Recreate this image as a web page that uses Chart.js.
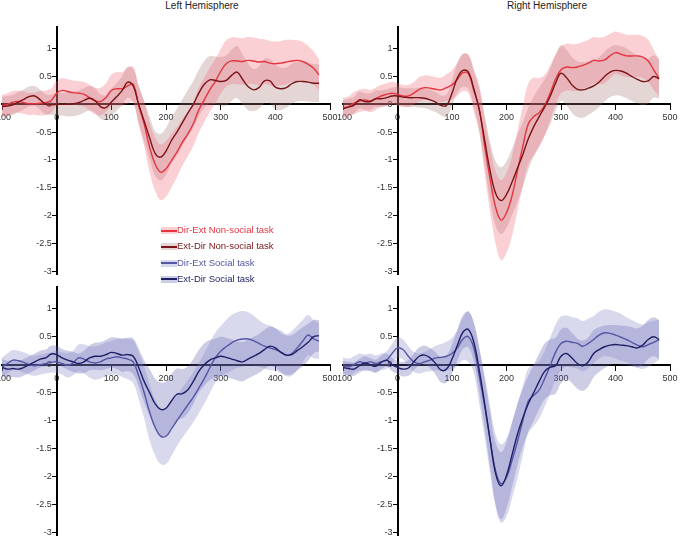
<!DOCTYPE html>
<html>
<head>
<meta charset="utf-8">
<script src="https://cdn.jsdelivr.net/npm/chart.js@4.4.0/dist/chart.umd.min.js"></script>
<style>
  body { margin: 0; width: 680px; height: 538px; overflow: hidden; background: #fff; position: relative;
         font-family: "Liberation Sans", Arial, sans-serif; }
  .panel { position: absolute; overflow: hidden; }
  .panel canvas { position: absolute; }
  .title { position: absolute; top: 0; width: 200px; text-align: center; font-size: 10px; line-height: 12px; color: #222; }
  .legend { position: absolute; left: 161px; top: 222px; font-size: 9.5px; line-height: 16.3px; }
  .legend div { white-space: nowrap; }
  .sw { display: inline-block; width: 16px; height: 7px; position: relative; vertical-align: -1px; }
  .sw i { position: absolute; left: 0; right: 0; top: 2.5px; height: 2px; }
</style>
</head>
<body>

<div class="title" style="left:102px">Left Hemisphere</div>
<div class="title" style="left:447px">Right Hemisphere</div>

<div class="panel" style="left:0;top:0;width:338px;height:280px">
  <canvas id="tl" width="388" height="307" style="left:-28px;top:-3px"></canvas>
</div>
<div class="panel" style="left:338px;top:0;width:342px;height:280px">
  <canvas id="tr" width="387" height="307" style="left:-25px;top:-3px"></canvas>
</div>
<div class="panel" style="left:0;top:280px;width:338px;height:258px">
  <canvas id="bl" width="388" height="308" style="left:-28px;top:-23px"></canvas>
</div>
<div class="panel" style="left:338px;top:280px;width:342px;height:258px">
  <canvas id="br" width="387" height="308" style="left:-25px;top:-23px"></canvas>
</div>

<div class="legend">
  <div style="color:#e4353f"><span class="sw" style="background:rgba(240,100,115,0.3)"><i style="background:#e4353f"></i></span>Dir-Ext Non-social task</div>
  <div style="color:#7a1418"><span class="sw" style="background:rgba(170,120,120,0.3)"><i style="background:#7a1418"></i></span>Ext-Dir Non-social task</div>
  <div style="color:#5656a6"><span class="sw" style="background:rgba(130,130,200,0.3)"><i style="background:#5656a6"></i></span>Dir-Ext Social task</div>
  <div style="color:#1f1f66"><span class="sw" style="background:rgba(90,90,170,0.3)"><i style="background:#1f1f66"></i></span>Ext-Dir Social task</div>
</div>

<script>
// time in ms, one sample every 10 ms
const times = [-100,-90,-80,-70,-60,-50,-40,-30,-20,-10,
  0,10,20,30,40,50,60,70,80,90,
  100,110,120,130,140,150,160,170,180,190,
  200,210,220,230,240,250,260,270,280,290,
  300,310,320,330,340,350,360,370,380,390,
  400,410,420,430,440,450,460,470,480];

const xTicks = [-100, 0, 100, 200, 300, 400, 500];
const yTicks = [1, 0.5, 0, -0.5, -1, -1.5, -2, -2.5, -3];

// Left hemisphere, non-social task
const leftDirExtNonSocial = [-0.03,0.0,0.04,0.05,0.03,0.01,0.01,0.02,0.03,0.07,
  0.2,0.25,0.23,0.21,0.2,0.18,0.12,0.06,0.05,0.12,
  0.25,0.28,0.28,0.33,0.36,-0.02,-0.35,-0.77,-1.07,-1.22,
  -1.16,-1.01,-0.86,-0.68,-0.53,-0.35,-0.1,0.08,0.26,0.41,
  0.59,0.73,0.78,0.78,0.77,0.79,0.78,0.76,0.77,0.74,
  0.73,0.74,0.76,0.78,0.79,0.77,0.72,0.65,0.53];
const leftDirExtNonSocialErr = [0.2,0.2,0.2,0.2,0.2,0.2,0.2,0.22,0.22,0.22,
  0.22,0.22,0.22,0.22,0.22,0.22,0.23,0.24,0.25,0.26,
  0.28,0.3,0.3,0.32,0.32,0.35,0.4,0.45,0.48,0.5,
  0.5,0.48,0.45,0.42,0.4,0.4,0.4,0.4,0.4,0.4,
  0.4,0.42,0.42,0.42,0.42,0.42,0.42,0.42,0.4,0.4,
  0.4,0.4,0.4,0.38,0.36,0.35,0.33,0.3,0.28];
const leftExtDirNonSocial = [-0.04,-0.03,-0.01,0.04,0.09,0.14,0.15,0.08,0.0,-0.01,
  0.0,0.0,0.0,0.01,0.03,0.07,0.11,0.07,-0.04,-0.06,
  0.04,0.14,0.25,0.4,0.33,0.0,-0.3,-0.6,-0.88,-0.95,
  -0.84,-0.65,-0.5,-0.33,-0.16,0.0,0.2,0.36,0.44,0.43,
  0.41,0.43,0.52,0.58,0.45,0.32,0.26,0.3,0.42,0.42,
  0.31,0.28,0.3,0.37,0.41,0.41,0.4,0.38,0.38];
const leftExtDirNonSocialErr = [0.18,0.18,0.18,0.18,0.18,0.18,0.18,0.18,0.18,0.18,
  0.2,0.2,0.22,0.22,0.22,0.22,0.22,0.22,0.22,0.22,
  0.24,0.25,0.26,0.28,0.3,0.33,0.36,0.38,0.4,0.42,
  0.42,0.42,0.42,0.42,0.42,0.42,0.42,0.42,0.43,0.43,
  0.44,0.45,0.46,0.47,0.45,0.42,0.38,0.38,0.4,0.4,
  0.4,0.38,0.36,0.36,0.36,0.35,0.35,0.34,0.34];

// Right hemisphere, non-social task
const rightDirExtNonSocial = [-0.06,-0.04,0.02,0.06,0.08,0.06,0.1,0.15,0.18,0.2,
  0.18,0.15,0.15,0.2,0.27,0.3,0.29,0.27,0.26,0.3,
  0.35,0.45,0.57,0.55,0.25,-0.08,-0.75,-1.35,-1.85,-2.08,
  -1.95,-1.65,-1.2,-0.75,-0.35,-0.22,-0.15,-0.02,0.2,0.45,
  0.62,0.67,0.66,0.67,0.7,0.74,0.79,0.78,0.8,0.87,
  0.93,0.9,0.87,0.87,0.87,0.85,0.78,0.62,0.47];
const rightDirExtNonSocialErr = [0.18,0.18,0.2,0.2,0.2,0.2,0.2,0.2,0.2,0.2,
  0.2,0.2,0.2,0.2,0.22,0.22,0.22,0.22,0.22,0.24,
  0.26,0.3,0.33,0.35,0.38,0.42,0.5,0.58,0.65,0.72,
  0.72,0.72,0.72,0.72,0.72,0.7,0.62,0.55,0.5,0.45,
  0.42,0.42,0.42,0.42,0.42,0.42,0.42,0.42,0.42,0.4,
  0.38,0.38,0.38,0.38,0.38,0.38,0.38,0.36,0.33];
const rightExtDirNonSocial = [-0.08,-0.05,-0.02,0.08,0.05,0.05,0.1,0.1,0.12,0.15,
  0.15,0.13,0.12,0.12,0.12,0.11,0.08,0.04,-0.02,-0.02,
  0.2,0.48,0.61,0.58,0.28,-0.1,-0.65,-1.2,-1.6,-1.73,
  -1.62,-1.4,-1.15,-0.9,-0.62,-0.4,-0.22,-0.05,0.14,0.38,
  0.56,0.48,0.35,0.27,0.26,0.29,0.33,0.4,0.5,0.58,
  0.61,0.6,0.56,0.5,0.45,0.41,0.42,0.5,0.46];
const rightExtDirNonSocialErr = [0.15,0.15,0.15,0.15,0.15,0.15,0.15,0.15,0.15,0.15,
  0.16,0.16,0.17,0.17,0.18,0.18,0.18,0.18,0.18,0.2,
  0.22,0.26,0.3,0.3,0.32,0.38,0.45,0.52,0.58,0.6,
  0.6,0.6,0.6,0.58,0.56,0.54,0.52,0.5,0.5,0.5,
  0.5,0.5,0.5,0.5,0.5,0.48,0.46,0.45,0.45,0.45,
  0.45,0.45,0.45,0.44,0.43,0.42,0.4,0.38,0.36];

// Left hemisphere, social task
const leftDirExtSocial = [-0.05,0.02,0.08,0.07,0.04,0.0,-0.02,0.0,0.02,0.04,
  0.05,0.02,-0.01,0.03,0.12,0.1,0.05,0.03,0.05,0.1,
  0.12,0.14,0.12,0.1,0.05,-0.2,-0.5,-0.85,-1.12,-1.28,
  -1.28,-1.15,-1.0,-0.86,-0.72,-0.58,-0.42,-0.25,-0.06,0.12,
  0.24,0.32,0.39,0.44,0.46,0.46,0.43,0.38,0.33,0.3,
  0.27,0.23,0.17,0.2,0.3,0.42,0.53,0.46,0.42];
const leftDirExtSocialErr = [0.18,0.18,0.18,0.18,0.18,0.18,0.18,0.18,0.18,0.18,
  0.2,0.2,0.22,0.22,0.24,0.26,0.28,0.3,0.3,0.3,
  0.3,0.32,0.34,0.36,0.38,0.42,0.46,0.5,0.5,0.5,
  0.5,0.48,0.46,0.45,0.45,0.45,0.45,0.45,0.45,0.45,
  0.45,0.48,0.5,0.5,0.5,0.48,0.45,0.42,0.4,0.4,
  0.38,0.38,0.38,0.4,0.4,0.38,0.36,0.34,0.32];
const leftExtDirSocial = [-0.05,-0.08,-0.07,-0.08,-0.05,0.0,0.05,0.1,0.12,0.19,
  0.18,0.12,0.08,0.05,0.02,0.05,0.12,0.15,0.15,0.18,
  0.22,0.2,0.17,0.18,0.15,-0.05,-0.3,-0.5,-0.7,-0.8,
  -0.78,-0.65,-0.53,-0.52,-0.45,-0.3,-0.12,0.0,0.08,0.12,
  0.15,0.13,0.1,0.07,0.05,0.1,0.15,0.2,0.27,0.33,
  0.3,0.22,0.17,0.18,0.25,0.32,0.4,0.5,0.52];
const leftExtDirSocialErr = [0.15,0.15,0.15,0.15,0.15,0.15,0.15,0.15,0.15,0.15,
  0.16,0.16,0.17,0.18,0.18,0.2,0.22,0.24,0.25,0.26,
  0.27,0.28,0.3,0.3,0.32,0.34,0.38,0.42,0.45,0.48,
  0.48,0.48,0.46,0.44,0.42,0.4,0.38,0.38,0.36,0.35,
  0.35,0.35,0.35,0.35,0.35,0.35,0.35,0.35,0.35,0.35,
  0.35,0.35,0.35,0.35,0.35,0.35,0.33,0.3,0.28];

// Right hemisphere, social task
const rightDirExtSocial = [-0.02,-0.04,0.0,0.05,0.03,0.05,0.02,0.05,0.08,0.2,
  0.3,0.27,0.15,0.05,0.02,0.05,0.08,0.12,0.13,0.15,
  0.2,0.3,0.46,0.5,0.3,-0.2,-0.75,-1.35,-1.9,-2.13,
  -2.02,-1.72,-1.38,-1.0,-0.65,-0.55,-0.45,-0.25,-0.02,0.22,
  0.38,0.42,0.4,0.38,0.33,0.38,0.45,0.53,0.57,0.56,
  0.53,0.49,0.45,0.4,0.35,0.32,0.36,0.4,0.45];
const rightDirExtSocialErr = [0.15,0.15,0.15,0.15,0.15,0.15,0.15,0.15,0.16,0.17,
  0.18,0.18,0.18,0.18,0.18,0.18,0.2,0.22,0.24,0.26,
  0.28,0.32,0.38,0.45,0.45,0.5,0.55,0.6,0.65,0.7,
  0.7,0.68,0.66,0.62,0.58,0.55,0.52,0.5,0.5,0.5,
  0.48,0.46,0.45,0.45,0.45,0.44,0.42,0.42,0.42,0.42,
  0.42,0.42,0.4,0.4,0.4,0.4,0.4,0.38,0.36];
const rightExtDirSocial = [-0.05,-0.07,-0.08,-0.02,0.03,0.0,-0.03,0.04,0.08,0.0,
  -0.05,-0.08,-0.06,0.05,0.15,0.17,0.12,0.02,-0.1,-0.08,
  0.1,0.35,0.58,0.63,0.4,-0.1,-0.7,-1.35,-1.95,-2.17,
  -1.98,-1.62,-1.25,-0.95,-0.7,-0.5,-0.3,-0.12,-0.05,-0.02,
  0.15,0.2,0.12,0.02,-0.02,0.05,0.2,0.27,0.32,0.35,
  0.36,0.35,0.34,0.32,0.3,0.35,0.45,0.5,0.45];
const rightExtDirSocialErr = [0.12,0.12,0.12,0.12,0.12,0.12,0.12,0.12,0.12,0.12,
  0.12,0.13,0.14,0.15,0.16,0.17,0.18,0.2,0.22,0.24,
  0.26,0.28,0.3,0.32,0.35,0.4,0.45,0.5,0.55,0.6,
  0.6,0.58,0.55,0.52,0.5,0.5,0.5,0.5,0.5,0.5,
  0.48,0.46,0.45,0.45,0.45,0.44,0.42,0.4,0.38,0.36,
  0.35,0.35,0.35,0.35,0.35,0.35,0.35,0.35,0.35];

const redLine = '#e4353f', redBand = 'rgba(240,100,115,0.3)';
const darkRedLine = '#7a1418', darkRedBand = 'rgba(170,120,120,0.3)';
const blueLine = '#5656a6', blueBand = 'rgba(130,130,200,0.3)';
const navyLine = '#1f1f66', navyBand = 'rgba(90,90,170,0.3)';

function pts(vals, err, sign) {
  return times.map((t, i) => ({ x: t, y: vals[i] + sign * (err ? err[i] : 0) }));
}

function seriesSets(vals, err, line, band) {
  return [
    { data: pts(vals, null, 0), borderColor: line, borderWidth: 1.4, order: 0 },
    { data: pts(vals, err, -1), borderWidth: 0, fill: false, order: 1 },
    { data: pts(vals, err, 1), borderWidth: 0, fill: '-1', backgroundColor: band, order: 1 }
  ];
}

function panel(id, a, b, yMin) {
  const sa = seriesSets(a.vals, a.err, a.line, a.band);
  const sb = seriesSets(b.vals, b.err, b.line, b.band);
  const tickFont = { size: 9, family: 'Liberation Sans' };
  new Chart(document.getElementById(id), {
    type: 'line',
    data: { datasets: [sb[0], sa[0], sa[1], sa[2], sb[1], sb[2]] },
    options: {
      responsive: false,
      animation: false,
      layout: { padding: 30 },
      elements: { point: { radius: 0 }, line: { tension: 0.4 } },
      plugins: { legend: { display: false }, tooltip: { enabled: false } },
      scales: {
        x: {
          type: 'linear', min: -100, max: 500, position: { y: 0 },
          afterBuildTicks: (ax) => { ax.ticks = xTicks.map(v => ({ value: v })); },
          grid: { drawOnChartArea: false, drawTicks: true, tickLength: 5, color: '#000' },
          border: { display: true, color: '#000', width: 2 },
          ticks: { color: '#333', font: tickFont, padding: 3, maxRotation: 0, autoSkip: false, callback: v => String(v) }
        },
        y: {
          type: 'linear', min: yMin, max: 1.39, position: { x: 0 },
          afterBuildTicks: (ax) => { ax.ticks = yTicks.map(v => ({ value: v })); },
          grid: { drawOnChartArea: false, drawTicks: true, tickLength: 4, color: '#000' },
          border: { display: true, color: '#000', width: 2 },
          // labels sit right on the axis when it is placed at x=0, so pad them with spaces
          ticks: { color: '#333', font: tickFont, padding: 4, autoSkip: false, callback: v => String(v) + '  ' }
        }
      }
    }
  });
}

panel('tl',
  { vals: leftDirExtNonSocial, err: leftDirExtNonSocialErr, line: redLine, band: redBand },
  { vals: leftExtDirNonSocial, err: leftExtDirNonSocialErr, line: darkRedLine, band: darkRedBand }, -3.05);
panel('tr',
  { vals: rightDirExtNonSocial, err: rightDirExtNonSocialErr, line: redLine, band: redBand },
  { vals: rightExtDirNonSocial, err: rightExtDirNonSocialErr, line: darkRedLine, band: darkRedBand }, -3.05);
panel('bl',
  { vals: leftDirExtSocial, err: leftDirExtSocialErr, line: blueLine, band: blueBand },
  { vals: leftExtDirSocial, err: leftExtDirSocialErr, line: navyLine, band: navyBand }, -3.05);
panel('br',
  { vals: rightDirExtSocial, err: rightDirExtSocialErr, line: blueLine, band: blueBand },
  { vals: rightExtDirSocial, err: rightExtDirSocialErr, line: navyLine, band: navyBand }, -3.05);
</script>
</body>
</html>
